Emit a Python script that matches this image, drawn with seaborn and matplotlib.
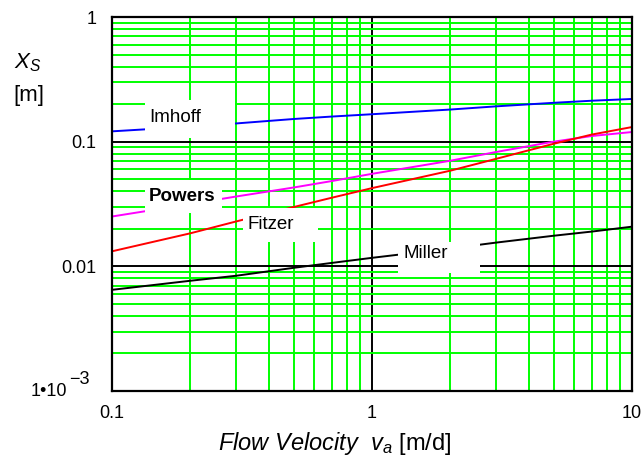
import numpy as np
import pandas as pd
import matplotlib
matplotlib.use("Agg")
import matplotlib.pyplot as plt
from matplotlib.patches import Rectangle
from matplotlib.ticker import LogLocator, FixedLocator, FixedFormatter, NullFormatter
import seaborn as sns

# Flow velocity v_a [m/d]
velocity = [0.1, 0.2, 0.3, 0.5, 0.7, 1.0, 2.0, 3.0, 5.0, 7.0, 10.0]

# Dispersion length X_S [m] by author
imhoff = [0.121, 0.132, 0.140, 0.152, 0.159, 0.166, 0.181, 0.192, 0.205, 0.213, 0.220]
powers = [0.0251, 0.0316, 0.0363, 0.0429, 0.0483, 0.0552, 0.0703, 0.0826, 0.100, 0.111, 0.1195]
fitzer = [0.0132, 0.0184, 0.0229, 0.0299, 0.0355, 0.0424, 0.0585, 0.0728, 0.0962, 0.114, 0.131]
miller = [0.00648, 0.00766, 0.0084, 0.00973, 0.01065, 0.0117, 0.0139, 0.0155, 0.0176, 0.0190, 0.0208]

series_names = ["Imhoff", "Powers", "Fitzer", "Miller"]
series_colors = ["#0000ff", "#ff00ff", "#ff0000", "#000000"]

x_ticks = [0.1, 1, 10]
x_tick_labels = ["0.1", "1", "10"]
y_ticks = [0.001, 0.01, 0.1, 1]
y_tick_labels = ["", "0.01", "0.1", "1"]
# the lowest decade label is drawn as mantissa plus raised exponent
low_mantissa = "1\u202210"
low_exponent = "\u22123"

df = pd.DataFrame({
    "v": velocity * 4,
    "xs": imhoff + powers + fitzer + miller,
    "author": sum([[n] * len(velocity) for n in series_names], []),
})

sns.set_theme(style="white")
plt.rcParams["font.family"] = ["Liberation Sans", "DejaVu Sans"]
plt.rcParams["mathtext.fontset"] = "custom"
plt.rcParams["mathtext.rm"] = "Liberation Sans"
plt.rcParams["mathtext.it"] = "Liberation Sans:italic"
plt.rcParams["mathtext.bf"] = "Liberation Sans:bold"

fig = plt.figure(figsize=(6.42, 4.58), dpi=100)
ax = fig.add_axes([112 / 642, 1 - 391 / 458, 520 / 642, 374 / 458])

sns.lineplot(data=df, x="v", y="xs", hue="author", hue_order=series_names,
             palette=series_colors, linewidth=1.4, legend=False, ax=ax,
             estimator=None, sort=True)

ax.set_xscale("log")
ax.set_yscale("log")
ax.set_xlim(0.1, 10)
ax.set_ylim(0.001, 1)

# Grid: green for the 2..9 subdivisions, black for the decades
ax.xaxis.set_minor_locator(LogLocator(base=10, subs=np.arange(2, 10)))
ax.yaxis.set_minor_locator(LogLocator(base=10, subs=np.arange(2, 10)))
ax.xaxis.set_minor_formatter(NullFormatter())
ax.yaxis.set_minor_formatter(NullFormatter())
ax.grid(which="minor", color="#00ff00", linewidth=1.4)
ax.grid(which="major", color="black", linewidth=1.4)
ax.set_axisbelow(True)

ax.xaxis.set_major_locator(FixedLocator(x_ticks))
ax.xaxis.set_major_formatter(FixedFormatter(x_tick_labels))
ax.yaxis.set_major_locator(FixedLocator(y_ticks))
ax.yaxis.set_major_formatter(FixedFormatter(y_tick_labels))
ax.tick_params(which="both", length=0)
ax.tick_params(axis="x", labelsize=13, pad=10, colors="black")
ax.tick_params(axis="y", labelsize=13, pad=11, colors="black")

for sp in ax.spines.values():
    sp.set_color("black")
    sp.set_linewidth(1.6)
    sp.set_zorder(6)

ax.set_xlabel("")
ax.set_ylabel("")

fig.text(67 / 642, 1 - 392 / 458, low_mantissa, fontsize=13,
         ha="right", va="center", color="black")
fig.text(69 / 642, 1 - 379 / 458, low_exponent, fontsize=13,
         ha="left", va="center", color="black")

# Curve labels on white boxes (axes fraction coordinates)
labels = [
    ("Imhoff", (0.0635, 0.676, 0.173, 0.102), (0.071, 0.730), "normal"),
    ("Powers", (0.0635, 0.476, 0.148, 0.088), (0.071, 0.521), "bold"),
    ("Fitzer", (0.252, 0.398, 0.144, 0.091), (0.260, 0.444), "normal"),
    ("Miller", (0.550, 0.3155, 0.158, 0.0825), (0.560, 0.3677), "normal"),
]
for text, (bx, by, bw, bh), (tx, ty), weight in labels:
    ax.add_patch(Rectangle((bx, by), bw, bh, transform=ax.transAxes,
                           facecolor="white", edgecolor="none", zorder=4))
    ax.text(tx, ty, text, transform=ax.transAxes, fontsize=13.5,
            fontweight=weight, ha="left", va="center", zorder=5, color="black")

# Axis titles
fig.text(218 / 642, 1 - 450 / 458,
         r"$\mathit{Flow\ Velocity}\ \ v_a$ [m/d]",
         fontsize=17, ha="left", va="baseline", color="black")
fig.text(28 / 642, 1 - 63 / 458, r"$X_S$", fontsize=16,
         ha="center", va="center", color="black")
fig.text(29 / 642, 1 - 95 / 458, "[m]", fontsize=16,
         ha="center", va="center", color="black")

fig.savefig("out.png", dpi=100)
